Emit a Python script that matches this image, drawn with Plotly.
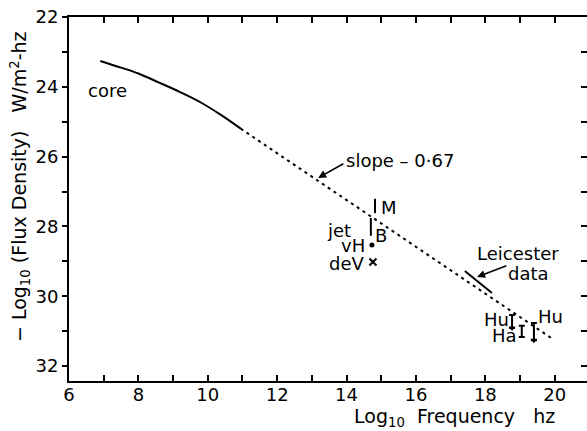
import plotly.graph_objects as go

# ---- data ----
core_x = [6.9, 7.5, 8.0, 8.6, 9.2, 9.8, 10.4, 10.95]
core_y = [23.26, 23.45, 23.62, 23.88, 24.15, 24.45, 24.82, 25.2]

slope_x = [10.95, 19.9]
slope_y = [25.2, 31.2]

leicester_x = [17.41, 18.19]
leicester_y = [29.28, 29.91]

m_x = [14.82, 14.82]
m_y = [27.21, 27.62]
b_x = [14.70, 14.70]
b_y = [27.76, 28.27]

vh_x = [14.73]
vh_y = [28.53]
dev_x = [14.76]
dev_y = [29.02]

hu_x = [18.77, 19.40]
hu_top = [30.54, 30.77]
hu_bottom = [30.91, 31.26]

ha_x = [19.05]
ha_y = [31.01]
ha_err = [0.16]

x_ticks = [6, 8, 10, 12, 14, 16, 18, 20]
y_ticks = [22, 24, 26, 28, 30, 32]

FONT = "DejaVu Sans"
BLK = "black"

fig = go.Figure()

fig.add_trace(go.Scatter(x=core_x, y=core_y, mode="lines",
                         line=dict(color=BLK, width=2), line_shape="spline"))
fig.add_trace(go.Scatter(x=slope_x, y=slope_y, mode="lines",
                         line=dict(color=BLK, width=2, dash="3px,4px")))
fig.add_trace(go.Scatter(x=leicester_x, y=leicester_y, mode="lines",
                         line=dict(color=BLK, width=2)))
fig.add_trace(go.Scatter(x=m_x, y=m_y, mode="lines", line=dict(color=BLK, width=2)))
fig.add_trace(go.Scatter(x=b_x, y=b_y, mode="lines", line=dict(color=BLK, width=2)))
fig.add_trace(go.Scatter(x=vh_x, y=vh_y, mode="markers",
                         marker=dict(color=BLK, size=5, symbol="circle")))
fig.add_trace(go.Scatter(x=dev_x, y=dev_y, mode="markers",
                         marker=dict(color=BLK, size=7, symbol="x-thin",
                                     line=dict(color=BLK, width=2))))
# upper limits (Hu)
fig.add_trace(go.Scatter(
    x=hu_x, y=hu_top, mode="markers", marker=dict(size=1, color="rgba(0,0,0,0)"),
    error_y=dict(type="data", symmetric=False,
                 array=[b - t for b, t in zip(hu_bottom, hu_top)],
                 arrayminus=[0] * len(hu_x), color=BLK, thickness=2, width=3)))
fig.add_trace(go.Scatter(x=hu_x, y=hu_bottom, mode="markers",
                         marker=dict(color=BLK, size=6, symbol="triangle-down")))
# Ha error bar
fig.add_trace(go.Scatter(
    x=ha_x, y=ha_y, mode="markers", marker=dict(size=1, color="rgba(0,0,0,0)"),
    error_y=dict(type="data", array=ha_err, color=BLK, thickness=2, width=3)))
# dummy trace for right-hand tick axis
fig.add_trace(go.Scatter(x=[6], y=[22], yaxis="y2", mode="markers",
                         marker=dict(size=1, color="rgba(0,0,0,0)"), hoverinfo="skip"))

ann_font = dict(family=FONT, size=18, color=BLK)
texts = [
    ("core", 7.12, 24.12, "center"),
    ("slope – 0·67", 15.54, 26.10, "center"),
    ("jet", 13.78, 28.13, "center"),
    ("M", 15.22, 27.47, "center"),
    ("B", 14.99, 28.27, "center"),
    ("vH", 14.59, 28.56, "right"),
    ("deV", 14.59, 29.05, "right"),
    ("Leicester", 18.94, 28.79, "center"),
    ("data", 19.23, 29.36, "center"),
    ("Hu", 18.31, 30.68, "center"),
    ("Ha", 18.56, 31.14, "center"),
    ("Hu", 19.89, 30.57, "center"),
]
annotations = []
for t, x, y, xa in texts:
    annotations.append(dict(text=t, x=x, y=y, xref="x", yref="y", showarrow=False,
                            xanchor=xa, yanchor="middle", font=ann_font))
# arrows
for hx, hy, tx, ty in [(13.18, 26.61, 13.95, 26.18), (17.76, 29.45, 18.65, 29.11)]:
    annotations.append(dict(text="", x=hx, y=hy, ax=tx, ay=ty, xref="x", yref="y",
                            axref="x", ayref="y", showarrow=True, arrowhead=2,
                            arrowsize=1, arrowwidth=1.6, arrowcolor=BLK))
# axis titles
annotations.append(dict(text="− Log<sub>10</sub> (Flux Density)   W/m<sup>2</sup>-hz",
                        x=-0.095, y=0.535, xref="paper", yref="paper", textangle=-90,
                        showarrow=False, xanchor="center", yanchor="middle",
                        font=dict(family=FONT, size=19, color=BLK)))
annotations.append(dict(text="Log<sub>10</sub>  Frequency   hz",
                        x=0.745, y=-0.10, xref="paper", yref="paper",
                        showarrow=False, xanchor="center", yanchor="middle",
                        font=dict(family=FONT, size=19, color=BLK)))

fig.update_layout(
    width=587, height=431,
    margin=dict(l=69, r=0, t=17, b=50),
    paper_bgcolor="white", plot_bgcolor="white",
    showlegend=False,
    font=dict(family=FONT, size=18, color=BLK),
    annotations=annotations,
    xaxis=dict(range=[6, 20.93], tickvals=x_ticks, ticks="inside", ticklen=6,
               tickwidth=2, tickcolor=BLK, showline=True, linewidth=2, linecolor=BLK,
               mirror="ticks", showgrid=False, zeroline=False, ticklabelstandoff=-4,
               minor=dict(dtick=1, tick0=6, ticks="inside", ticklen=6, tickwidth=2,
                          tickcolor=BLK, showgrid=False),
               tickfont=dict(family=FONT, size=18, color=BLK)),
    yaxis=dict(range=[32.43, 22], tickvals=y_ticks, ticks="outside", ticklen=5,
               tickwidth=2, tickcolor=BLK, showline=True, linewidth=2, linecolor=BLK,
               showgrid=False, zeroline=False,
               minor=dict(dtick=1, tick0=22, ticks="outside", ticklen=5, tickwidth=2,
                          tickcolor=BLK, showgrid=False),
               tickfont=dict(family=FONT, size=18, color=BLK)),
    yaxis2=dict(range=[32.43, 22], overlaying="y", side="right", dtick=1, tick0=22,
                ticks="inside", ticklen=6, tickwidth=2, tickcolor=BLK,
                showticklabels=False, showline=False, showgrid=False, zeroline=False),
)

fig.write_html("out.html", config={"displayModeBar": False},
               post_script="document.body.style.margin='0px';")
